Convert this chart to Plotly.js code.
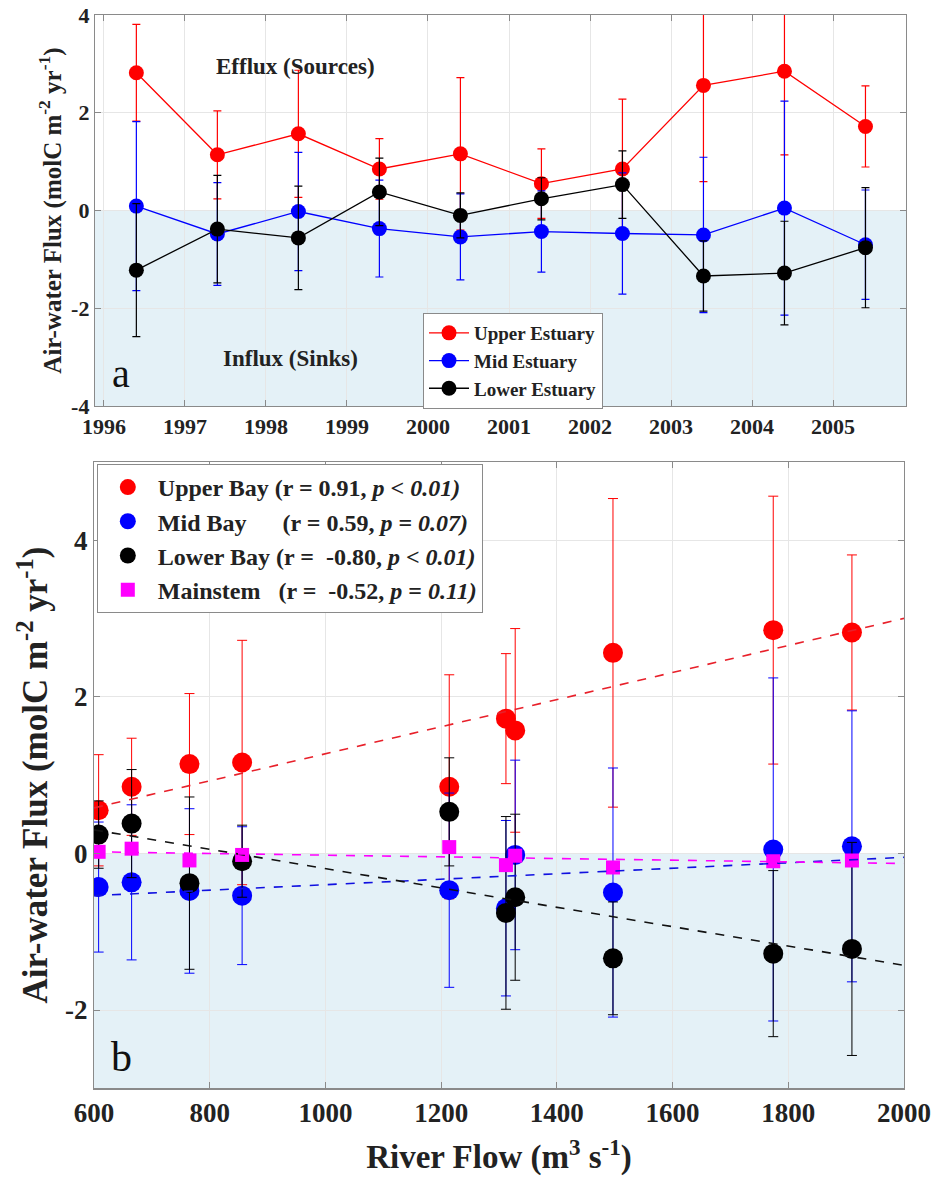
<!DOCTYPE html>
<html>
<head>
<meta charset="utf-8">
<script src="https://cdn.plot.ly/plotly-3.0.1.min.js"></script>
<style>html,body{margin:0;padding:0;background:#fff;}#chart{width:940px;height:1183px;}</style>
</head>
<body>
<div id="chart"></div>
<script>
// ---- Data ----
var years = [1996, 1997, 1998, 1999, 2000, 2001, 2002, 2003, 2004, 2005];
var yearX = [1996.4, 1997.4, 1998.4, 1999.4, 2000.4, 2001.4, 2002.4, 2003.4, 2004.4, 2005.4];
var riverFlow = [1910, 765, 1328, 665, 856, 608, 1214, 1497, 1774, 1312];

var upperFlux = [2.82, 1.14, 1.57, 0.85, 1.16, 0.55, 0.85, 2.56, 2.85, 1.72];
var upperErr  = [0.99, 0.90, 1.30, 0.62, 1.56, 0.71, 1.43, 1.97, 1.71, 0.83];
var midFlux   = [0.09, -0.48, -0.02, -0.37, -0.54, -0.43, -0.47, -0.50, 0.05, -0.70];
var midErr    = [1.73, 1.05, 1.21, 0.99, 0.88, 0.83, 1.24, 1.59, 2.19, 1.12];
var lowerFlux = [-1.22, -0.38, -0.56, 0.38, -0.10, 0.24, 0.53, -1.34, -1.28, -0.76];
var lowerErr  = [1.36, 1.10, 1.06, 0.69, 0.46, 0.43, 0.69, 0.72, 1.06, 1.23];
var mainFlux  = [-0.09, -0.09, -0.03, 0.06, -0.02, 0.02, 0.08, -0.18, -0.10, -0.15];

var trendX     = [600, 2000];
var upperTrend = [0.58, 3.00];
var midTrend   = [-0.54, -0.05];
var lowerTrend = [0.30, -1.43];
var mainTrend  = [0.02, -0.13];

var topLegendNames = ['Upper Estuary', 'Mid Estuary', 'Lower Estuary'];
var botLegendNames = [
  'Upper Bay (r = 0.91, <i>p</i> &lt; <i>0.01)</i>',
  'Mid Bay\u00a0\u00a0\u00a0\u00a0\u00a0 (r = 0.59, <i>p</i> = <i>0.07)</i>',
  'Lower Bay (r =\u00a0 -0.80, <i>p</i> &lt; <i>0.01)</i>',
  'Mainstem\u00a0\u00a0 (r =\u00a0 -0.52, <i>p</i> = <i>0.11)</i>'
];
var topXTicks = years;
var topXText = ['1996', '1997', '1998', '1999', '2000', '2001', '2002', '2003', '2004', '2005'];
var topYTicks = [-4, -2, 0, 2, 4];
var topYText = ['-4', '-2', '0', '2', '4'];
var botXTicks = [600, 800, 1000, 1200, 1400, 1600, 1800, 2000];
var botXText = ['600', '800', '1000', '1200', '1400', '1600', '1800', '2000'];
var botYTicks = [-2, 0, 2, 4];
var botYText = ['-2', '0', '2', '4'];

// ---- Styles ----
var FONT = 'Liberation Serif, Times New Roman, serif';
var RED = '#ff0000', BLUE = '#0000ff', BLACK = '#000000', MAG = '#ff00ff';

function topTrace(y, err, color, name) {
  return {
    x: yearX, y: y, type: 'scatter', mode: 'lines+markers', name: name,
    xaxis: 'x', yaxis: 'y', legend: 'legend',
    line: {color: color, width: 1.3},
    marker: {color: color, size: 15},
    error_y: {type: 'data', array: err, visible: true, color: color, thickness: 1.2, width: 4}
  };
}
function botTrace(y, err, color, name) {
  var t = {
    x: riverFlow, y: y, type: 'scatter', mode: 'markers', name: name,
    xaxis: 'x2', yaxis: 'y2', legend: 'legend2',
    marker: {color: color, size: 20}
  };
  if (err) t.error_y = {type: 'data', array: err, visible: true, color: color, thickness: 1, width: 5};
  return t;
}
function trendTrace(y, color) {
  return {
    x: trendX, y: y, type: 'scatter', mode: 'lines', showlegend: false,
    xaxis: 'x2', yaxis: 'y2', hoverinfo: 'skip',
    line: {color: color, width: 1.6, dash: 'dash'}
  };
}

var mainTrace = botTrace(mainFlux, null, MAG, botLegendNames[3]);
mainTrace.marker = {color: MAG, size: 14, symbol: 'square'};

var data = [
  topTrace(upperFlux, upperErr, RED, topLegendNames[0]),
  topTrace(midFlux, midErr, BLUE, topLegendNames[1]),
  topTrace(lowerFlux, lowerErr, BLACK, topLegendNames[2]),
  botTrace(upperFlux, upperErr, RED, botLegendNames[0]),
  botTrace(midFlux, midErr, BLUE, botLegendNames[1]),
  botTrace(lowerFlux, lowerErr, BLACK, botLegendNames[2]),
  mainTrace,
  trendTrace(upperTrend, '#e8202a'),
  trendTrace(midTrend, '#1010e0'),
  trendTrace(lowerTrend, '#111111'),
  trendTrace(mainTrend, MAG)
];

var axisCommon = {
  showgrid: true, gridcolor: '#e6e6e6', gridwidth: 1,
  showline: true, linecolor: '#8a8a8a', linewidth: 1.2, mirror: 'ticks',
  ticks: 'inside', ticklen: 6, tickcolor: '#8a8a8a', zeroline: false
};
function ax(extra) { var o = {}; for (var k in axisCommon) o[k] = axisCommon[k]; for (var k2 in extra) o[k2] = extra[k2]; return o; }

var layout = {
  width: 940, height: 1183,
  margin: {l: 0, r: 0, t: 0, b: 0},
  paper_bgcolor: '#ffffff', plot_bgcolor: '#ffffff',
  font: {family: FONT, color: '#1a1a1a'},
  xaxis: ax({domain: [0.1011, 0.9638], range: [1995.89, 2005.9], tickvals: topXTicks, ticktext: topXText,
    anchor: 'y', tickfont: {family: FONT, size: 22, weight: 'bold', color: '#222'}}),
  yaxis: ax({domain: [0.6568, 0.9873], range: [-4, 4], tickvals: topYTicks, ticktext: topYText, anchor: 'x',
    tickfont: {family: FONT, size: 22, weight: 'bold', color: '#222'},
    title: {text: 'Air-water Flux (molC m<sup>-2</sup> yr<sup>-1</sup>)', standoff: 2,
      font: {family: FONT, size: 25, weight: 'bold', color: '#222'}}}),
  xaxis2: ax({domain: [0.1, 0.9617], range: [600, 2000], tickvals: botXTicks, ticktext: botXText, anchor: 'y2',
    tickfont: {family: FONT, size: 27, weight: 'bold', color: '#222'},
    title: {text: 'River Flow (m<sup>3</sup> s<sup>-1</sup>)', standoff: 18,
      font: {family: FONT, size: 33, weight: 'bold', color: '#222'}}}),
  yaxis2: ax({domain: [0.08, 0.6097], range: [-3, 5], tickvals: botYTicks, ticktext: botYText, anchor: 'x2',
    tickfont: {family: FONT, size: 27, weight: 'bold', color: '#222'},
    title: {text: 'Air-water Flux (molC m<sup>-2</sup> yr<sup>-1</sup>)', standoff: 6,
      font: {family: FONT, size: 35, weight: 'bold', color: '#222'}}}),
  shapes: [
    {type: 'rect', xref: 'x domain', yref: 'y', x0: 0, x1: 1, y0: -4, y1: 0,
      fillcolor: '#e4f1f7', line: {width: 0}, layer: 'below'},
    {type: 'rect', xref: 'x2 domain', yref: 'y2', x0: 0, x1: 1, y0: -3, y1: 0,
      fillcolor: '#e4f1f7', line: {width: 0}, layer: 'below'}
  ],
  annotations: [
    {text: 'Efflux (Sources)', xref: 'x', yref: 'y', x: 1998.37, y: 2.95, showarrow: false,
      font: {family: FONT, size: 23, weight: 'bold', color: '#222'}},
    {text: 'Influx (Sinks)', xref: 'x', yref: 'y', x: 1998.3, y: -3.03, showarrow: false,
      font: {family: FONT, size: 23, weight: 'bold', color: '#222'}},
    {text: 'a', xref: 'x domain', yref: 'y domain', x: 0.018, y: 0.02, xanchor: 'left', yanchor: 'bottom',
      showarrow: false, font: {family: FONT, size: 40, color: '#111'}},
    {text: 'b', xref: 'x2 domain', yref: 'y2 domain', x: 0.018, y: 0.01, xanchor: 'left', yanchor: 'bottom',
      showarrow: false, font: {family: FONT, size: 42, color: '#111'}}
  ],
  legend: {x: 0.45, y: 0.7354, xanchor: 'left', yanchor: 'top', bgcolor: '#ffffff',
    bordercolor: '#8a8a8a', borderwidth: 1, itemwidth: 40, tracegroupgap: 0,
    font: {family: FONT, size: 19, weight: 'bold', color: '#222'}},
  legend2: {x: 0.103, y: 0.6078, xanchor: 'left', yanchor: 'top', bgcolor: '#ffffff',
    bordercolor: '#8a8a8a', borderwidth: 1, itemwidth: 50, tracegroupgap: 0,
    font: {family: FONT, size: 24, weight: 'bold', color: '#222'}},
  showlegend: true
};

Plotly.newPlot('chart', data, layout, {displayModeBar: false, staticPlot: true});
</script>
</body>
</html>
